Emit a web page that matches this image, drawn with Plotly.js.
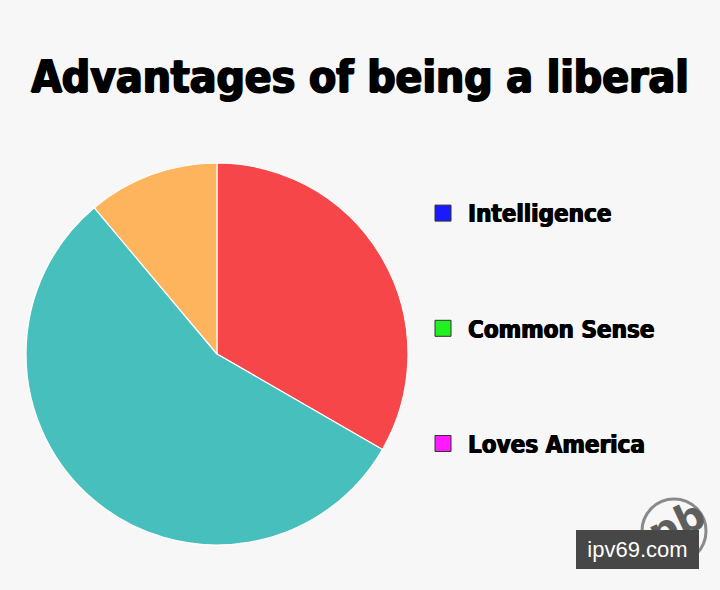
<!DOCTYPE html>
<html>
<head>
<meta charset="utf-8">
<script src="https://cdn.plot.ly/plotly-3.0.1.min.js"></script>
<style>
html,body{margin:0;padding:0;background:#f7f7f7;}
#chart{width:720px;height:590px;}
</style>
</head>
<body>
<div id="chart"></div>
<script>
// Pie slices (drawn)
const sliceLabels = ["Red share", "Teal share", "Orange share"];
const sliceValues = [3, 5, 1];
const sliceColors = ["#f7464a", "#46bfbd", "#fdb45c"];

// Legend entries (deliberately not matching the slices)
const legendLabels = ["Intelligence", "Common Sense", "Loves America"];
const legendColors = ["#1a1aff", "#1ff01f", "#ff1aff"];

const titleText = "Advantages of being a liberal";
const watermarkText = "ipv69.com";

const heavy = "'DejaVu Sans Condensed', 'Liberation Sans Narrow', sans-serif";

const traces = [{
  type: "pie",
  labels: sliceLabels,
  values: sliceValues,
  sort: false,
  direction: "clockwise",
  rotation: 0,
  textinfo: "none",
  hoverinfo: "label+percent",
  showlegend: false,
  marker: {colors: sliceColors, line: {color: "#ffffff", width: 1.2}},
  domain: {x: [26/720, 408/720], y: [45/590, 427/590]}
}];

legendLabels.forEach((name, i) => {
  traces.push({
    type: "scatter",
    mode: "markers",
    name: name,
    x: [null], y: [null],
    legendgroup: "g" + i,
    marker: {symbol: "square", size: 16, color: legendColors[i], line: {color: "#333333", width: 1}},
    showlegend: true,
    hoverinfo: "skip"
  });
});

const layout = {
  width: 720,
  height: 590,
  margin: {l: 0, r: 0, t: 0, b: 0},
  paper_bgcolor: "#f7f7f7",
  plot_bgcolor: "#f7f7f7",
  title: {
    text: titleText,
    x: 0.5, xanchor: "center",
    y: 1 - 77/590, yanchor: "middle",
    font: {family: heavy, size: 44, color: "#000000", weight: 700,
           shadow: "1px 0 0 #000, -1px 0 0 #000, 0 1px 0 #000"}
  },
  xaxis: {visible: false},
  yaxis: {visible: false},
  showlegend: true,
  legend: {
    x: 418/720, xanchor: "left",
    y: 1 - 191/590, yanchor: "top",
    bgcolor: "rgba(0,0,0,0)",
    traceorder: "grouped",
    tracegroupgap: 81,
    itemwidth: 40,
    itemclick: false,
    font: {family: heavy, size: 24, color: "#000000", weight: 700,
           shadow: "0.6px 0 0 #000, -0.6px 0 0 #000"}
  },
  shapes: [{
    type: "circle", xref: "paper", yref: "paper",
    x0: 642/720, x1: 706/720, y0: 1 - 563/590, y1: 1 - 499/590,
    line: {color: "#8a8a8a", width: 3}, fillcolor: "rgba(0,0,0,0)"
  }],
  annotations: [{
    text: "pb", xref: "paper", yref: "paper",
    x: 676/720, y: 1 - 524/590, xanchor: "center", yanchor: "middle",
    showarrow: false, textangle: -25,
    font: {family: "DejaVu Sans, sans-serif", size: 40, color: "#5e5e5e", weight: 700}
  }, {
    text: watermarkText, xref: "paper", yref: "paper",
    x: 576/720, y: 1 - 549.5/590, xanchor: "left", yanchor: "middle",
    showarrow: false, bgcolor: "#474747", borderwidth: 0, borderpad: 0,
    width: 123, height: 39, align: "center",
    font: {family: "'Liberation Sans', Arial, sans-serif", size: 22, color: "#ffffff"}
  }]
};

Plotly.newPlot("chart", traces, layout, {displayModeBar: false});
</script>
</body>
</html>
